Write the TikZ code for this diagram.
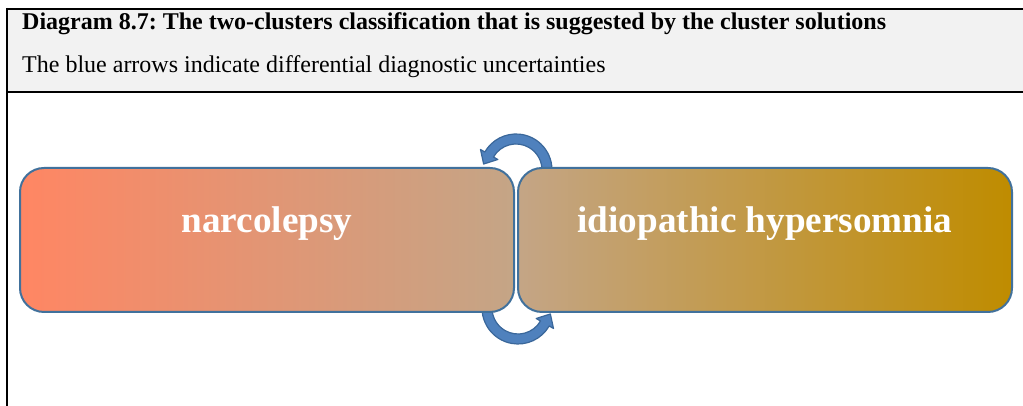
\documentclass[tikz,border=0pt]{standalone}
\usepackage{fontspec}
\setmainfont{Liberation Serif}
\usetikzlibrary{calc}
\frenchspacing
\definecolor{hdrgray}{HTML}{F2F2F2}
\definecolor{boxline}{HTML}{41719C}
\definecolor{arrfill}{HTML}{4F81BD}
\definecolor{arrline}{HTML}{3A679A}
\definecolor{coral}{HTML}{FF8663}
\definecolor{tanmid}{HTML}{C4A586}
\definecolor{gold}{HTML}{BF8C00}
\tikzset{
  rulebar/.style={line width=2pt, black},
  boxshape/.style={draw=boxline, line width=2pt, rounded corners=24pt,
    minimum width=494pt, minimum height=144pt, inner sep=0pt},
  boxtext/.style={text=white, font=\fontsize{37.2}{40}\selectfont\bfseries, anchor=base, inner sep=0pt},
  curvedarrow/.style={fill=arrfill, draw=arrline, line width=1.2pt, line join=round},
  hdrtext/.style={anchor=base west, inner sep=0pt, font=\fontsize{24}{28}\selectfont}
}
\begin{document}
\begin{tikzpicture}[x=1pt,y=1pt]
\useasboundingbox (0,0) rectangle (1023,406);
% header
\fill[hdrgray] (7,314) rectangle (1023,397);
\draw[rulebar] (6,397) -- (1023,397);
\draw[rulebar] (6,314) -- (1023,314);
\draw[rulebar] (6.5,398) -- (6.5,0);
\node[hdrtext, font=\fontsize{24}{28}\selectfont\bfseries] (title) at (22,376)
  {Diagram 8.7: The two-clusters classification that is suggested by the cluster solutions};
\node[hdrtext] (sub) at (22,333)
  {The blue arrows indicate differential diagnostic uncertainties};
% curved arrows (behind boxes)
\coordinate (ctop) at (516,236);
\coordinate (cbot) at (518,98);
\path[curvedarrow] ($(ctop)+(-5:36)$) arc[start angle=-5, end angle=150, radius=36]
  -- ($(ctop)+(150:41)$) -- ($(ctop)+(150:31)+(240:11)$) -- ($(ctop)+(150:21)$)
  -- ($(ctop)+(150:26)$) arc[start angle=150, end angle=-5, radius=26] -- cycle;
\path[curvedarrow] ($(cbot)+(170:36)$) arc[start angle=170, end angle=330, radius=36]
  -- ($(cbot)+(330:41)$) -- ($(cbot)+(330:31)+(60:11)$) -- ($(cbot)+(330:21)$)
  -- ($(cbot)+(330:26)$) arc[start angle=330, end angle=170, radius=26] -- cycle;
% boxes
\node[boxshape, left color=coral, right color=tanmid] (narc) at (267,166) {};
\node[boxshape, left color=tanmid, right color=gold] (ih) at (765,166) {};
\node[boxtext] (narcL) at (267,173) {narcolepsy};
\node[boxtext] (ihL) at (765,173) {idiopathic hypersomnia};
\end{tikzpicture}
\end{document}
